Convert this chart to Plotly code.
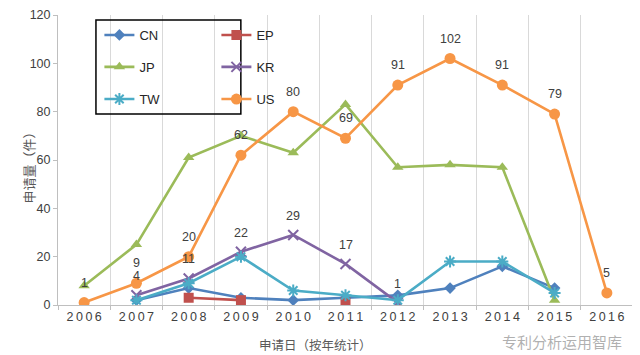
import plotly.graph_objects as go

years = ["2006", "2007", "2008", "2009", "2010", "2011", "2012", "2013", "2014", "2015", "2016"]
tick_labels = ["\u2009".join(y) for y in years]

cn = [None, 2, 7, 3, 2, 3, 4, 7, 16, 7, None]
ep = [None, None, 3, 2, None, 1, None, None, None, None, None]
jp = [8, 25, 61, 70, 63, 83, 57, 58, 57, 2, None]
kr = [None, 4, 11, 22, 29, 17, 1, None, None, None, None]
tw = [None, 2, 9, 20, 6, 4, 2, 18, 18, 5, None]
us = [1, 9, 20, 62, 80, 69, 91, 102, 91, 79, 5]

series = [
    ("CN", cn, "#4F81BD", "diamond", 9, "legend"),
    ("EP", ep, "#C0504D", "square", 10, "legend"),
    ("JP", jp, "#9BBB59", "triangle-up", 10, "legend2"),
    ("KR", kr, "#8064A2", "x-thin", 10, "legend2"),
    ("TW", tw, "#4BACC6", "asterisk", 10, "legend3"),
    ("US", us, "#F79646", "circle", 11, "legend3"),
]

fig = go.Figure()
for name, vals, color, sym, size, leg in series:
    thin = sym in ("x-thin", "asterisk")
    fig.add_trace(go.Scatter(
        x=years, y=vals, name=name, mode="lines+markers",
        line=dict(color=color, width=2.6),
        marker=dict(symbol=sym, size=size, color=color,
                    line=dict(color=color, width=2 if thin else 0)),
        connectgaps=False, legend=leg,
    ))

# data labels (US and KR)
for vals, shift in ((us, 20), (kr, 19)):
    for i, v in enumerate(vals):
        if v is not None:
            fig.add_annotation(x=i, y=v, xref="x", yref="y", text=str(v),
                               showarrow=False, yshift=shift,
                               font=dict(size=12.5, color="#404040"))

leg_common = dict(orientation="h", bgcolor="rgba(0,0,0,0)", borderwidth=0,
                  entrywidth=72, entrywidthmode="pixels", xanchor="left",
                  yanchor="middle", font=dict(size=13, color="#262626"),
                  tracegroupgap=0, itemwidth=30)
# page body has an 8px default margin; figure is sized to fit the 640x355 window
fig.update_layout(
    width=632, height=347,
    margin=dict(l=50, r=7, t=7, b=50),
    paper_bgcolor="white", plot_bgcolor="white",
    font=dict(family="Liberation Sans, Noto Sans CJK SC", size=12.5, color="#595959"),
    showlegend=True,
    legend=dict(x=0.072, y=0.931, **leg_common),
    legend2=dict(x=0.072, y=0.821, **leg_common),
    legend3=dict(x=0.072, y=0.710, **leg_common),
    xaxis=dict(type="category", categoryorder="array", categoryarray=years,
               tickvals=years, ticktext=tick_labels,
               tickson="boundaries", showgrid=True, gridcolor="#d9d9d9",
               showline=True, linecolor="#bfbfbf", linewidth=1,
               ticks="outside", ticklen=4, tickcolor="#bfbfbf",
               tickfont=dict(size=12.5, color="#404040"), range=[-0.5, 10.5],
               automargin=False),
    yaxis=dict(range=[0, 120], dtick=20, showgrid=False, zeroline=False,
               showline=True, linecolor="#bfbfbf", linewidth=1,
               ticks="outside", ticklen=4, tickcolor="#bfbfbf",
               tickfont=dict(size=12.5, color="#404040"),
               ticklabeloverflow="allow", automargin=False),
)

fig.add_shape(type="rect", xref="paper", yref="paper",
              x0=0.066, x1=0.318, y0=0.659, y1=0.983,
              line=dict(color="#000000", width=1.5), fillcolor="rgba(0,0,0,0)")

fig.add_annotation(xref="paper", yref="paper", x=-0.0713, y=0.483,
                   text="申请量（件）", showarrow=False, textangle=-90,
                   font=dict(size=13, color="#595959", family="Noto Sans CJK SC"))
fig.add_annotation(xref="paper", yref="paper", x=0.447, y=-0.098, yanchor="top",
                   text="申请日（按年统计）", showarrow=False,
                   font=dict(size=12.5, color="#595959", family="Noto Sans CJK SC"))
fig.add_annotation(xref="paper", yref="paper", x=0.985, y=-0.083, yanchor="top",
                   xanchor="right", text="专利分析运用智库", showarrow=False,
                   font=dict(size=15, color="rgba(150,150,150,0.75)",
                             family="Noto Sans CJK SC"))

fig.write_html("out.html")
